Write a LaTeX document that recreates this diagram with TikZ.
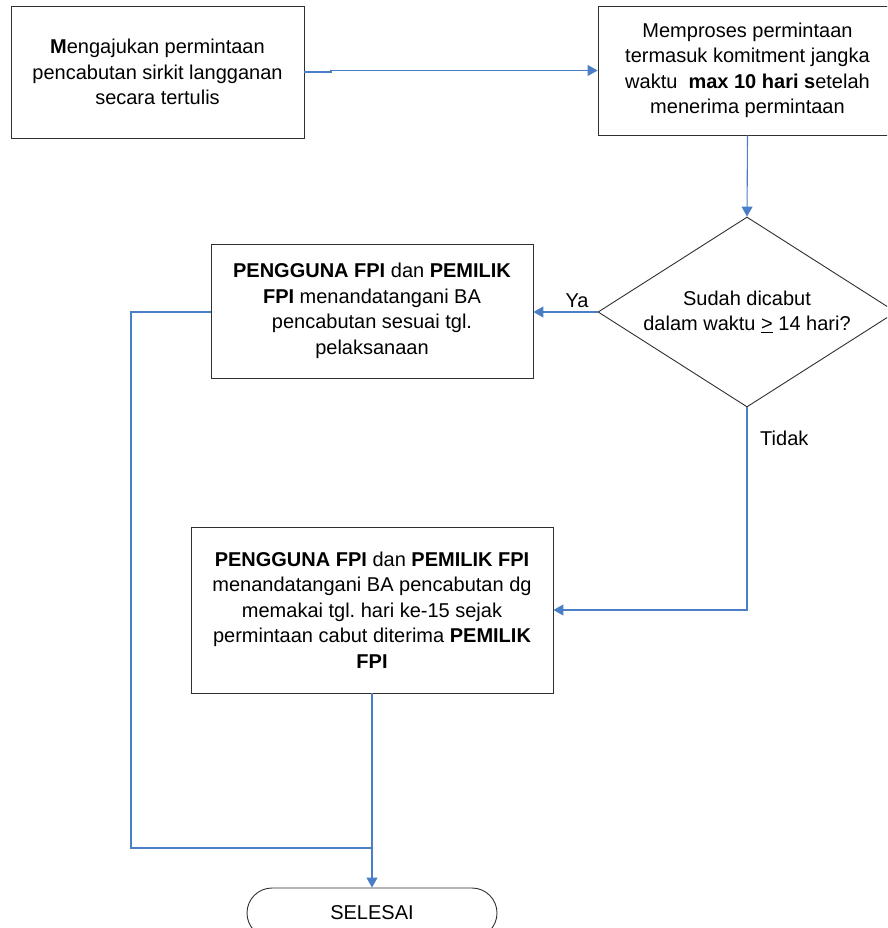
\documentclass[tikz,border=0pt]{standalone}
\usepackage{fontspec}
\setmainfont{Liberation Sans}
\usetikzlibrary{arrows.meta,shapes.geometric}
\definecolor{linkblue}{HTML}{4A7EC6}
\definecolor{boxline}{HTML}{303030}
\frenchspacing
\begin{document}
\begin{tikzpicture}[x=1pt,y=-1pt,
  every node/.style={font=\fontsize{20}{25.5}\selectfont, align=center, inner sep=0pt},
  procbox/.style={draw=boxline, line width=0.9pt, rectangle},
  decbox/.style={draw=boxline, line width=0.9pt, diamond, aspect=1.568},
  termbox/.style={draw=boxline, line width=0.9pt, rectangle, rounded corners=25pt},
  conn/.style={draw=linkblue, line width=1.1pt, -{Triangle[width=11pt,length=10pt]}},
  plainconn/.style={draw=linkblue, line width=1.1pt},
  lbl/.style={font=\fontsize{20}{24}\selectfont}]
\useasboundingbox (0,0) rectangle (887,928);
\clip (0,0) rectangle (887,928);

\node[procbox, minimum width=293pt, minimum height=132pt] (b1) at (157.5,72)
  {\textbf{M}engajukan permintaan\\pencabutan sirkit langganan\\secara tertulis};
\node[procbox, minimum width=299pt, minimum height=129pt] (b2) at (747.5,70.5)
  {Memproses permintaan\\termasuk komitment jangka\\waktu \ \textbf{max 10 hari s}etelah\\menerima permintaan};
\node[decbox, minimum width=298pt, minimum height=190pt] (d) at (747,312)
  {Sudah dicabut\\dalam waktu \underline{>} 14 hari?};
\node[procbox, minimum width=322pt, minimum height=134pt] (b3) at (372,311)
  {\textbf{PENGGUNA FPI} dan \textbf{PEMILIK}\\\textbf{FPI} menandatangani BA\\pencabutan sesuai tgl.\\pelaksanaan};
\node[procbox, minimum width=362pt, minimum height=166pt] (b4) at (372,610)
  {\textbf{PENGGUNA FPI} dan \textbf{PEMILIK FPI}\\menandatangani BA pencabutan dg\\memakai tgl. hari ke-15 sejak\\permintaan cabut diterima \textbf{PEMILIK}\\\textbf{FPI}};
\node[termbox, minimum width=250pt, minimum height=50pt] (t) at (372,913) {SELESAI};

\coordinate (jog) at (331,72);
\coordinate (c3) at (131,848);
\coordinate (j) at (372,848);

\draw[conn] (b1.east) -- (jog) |- (b2.west);
\draw[conn] (b2.south) -- (d.north);
\draw[conn] (d.west) -- (d.west -| b3.east) node[lbl, pos=0.32, above=4pt] (ya) {Ya};
\draw[conn] (d.south) |- (b4.east);
\node[lbl, anchor=west] (tidak) at (760,438) {Tidak};
\draw[plainconn] (b3.west |- d.west) -| (c3) -- (j);
\draw[conn] (b4.south) -- (t.north);
\end{tikzpicture}
\end{document}
